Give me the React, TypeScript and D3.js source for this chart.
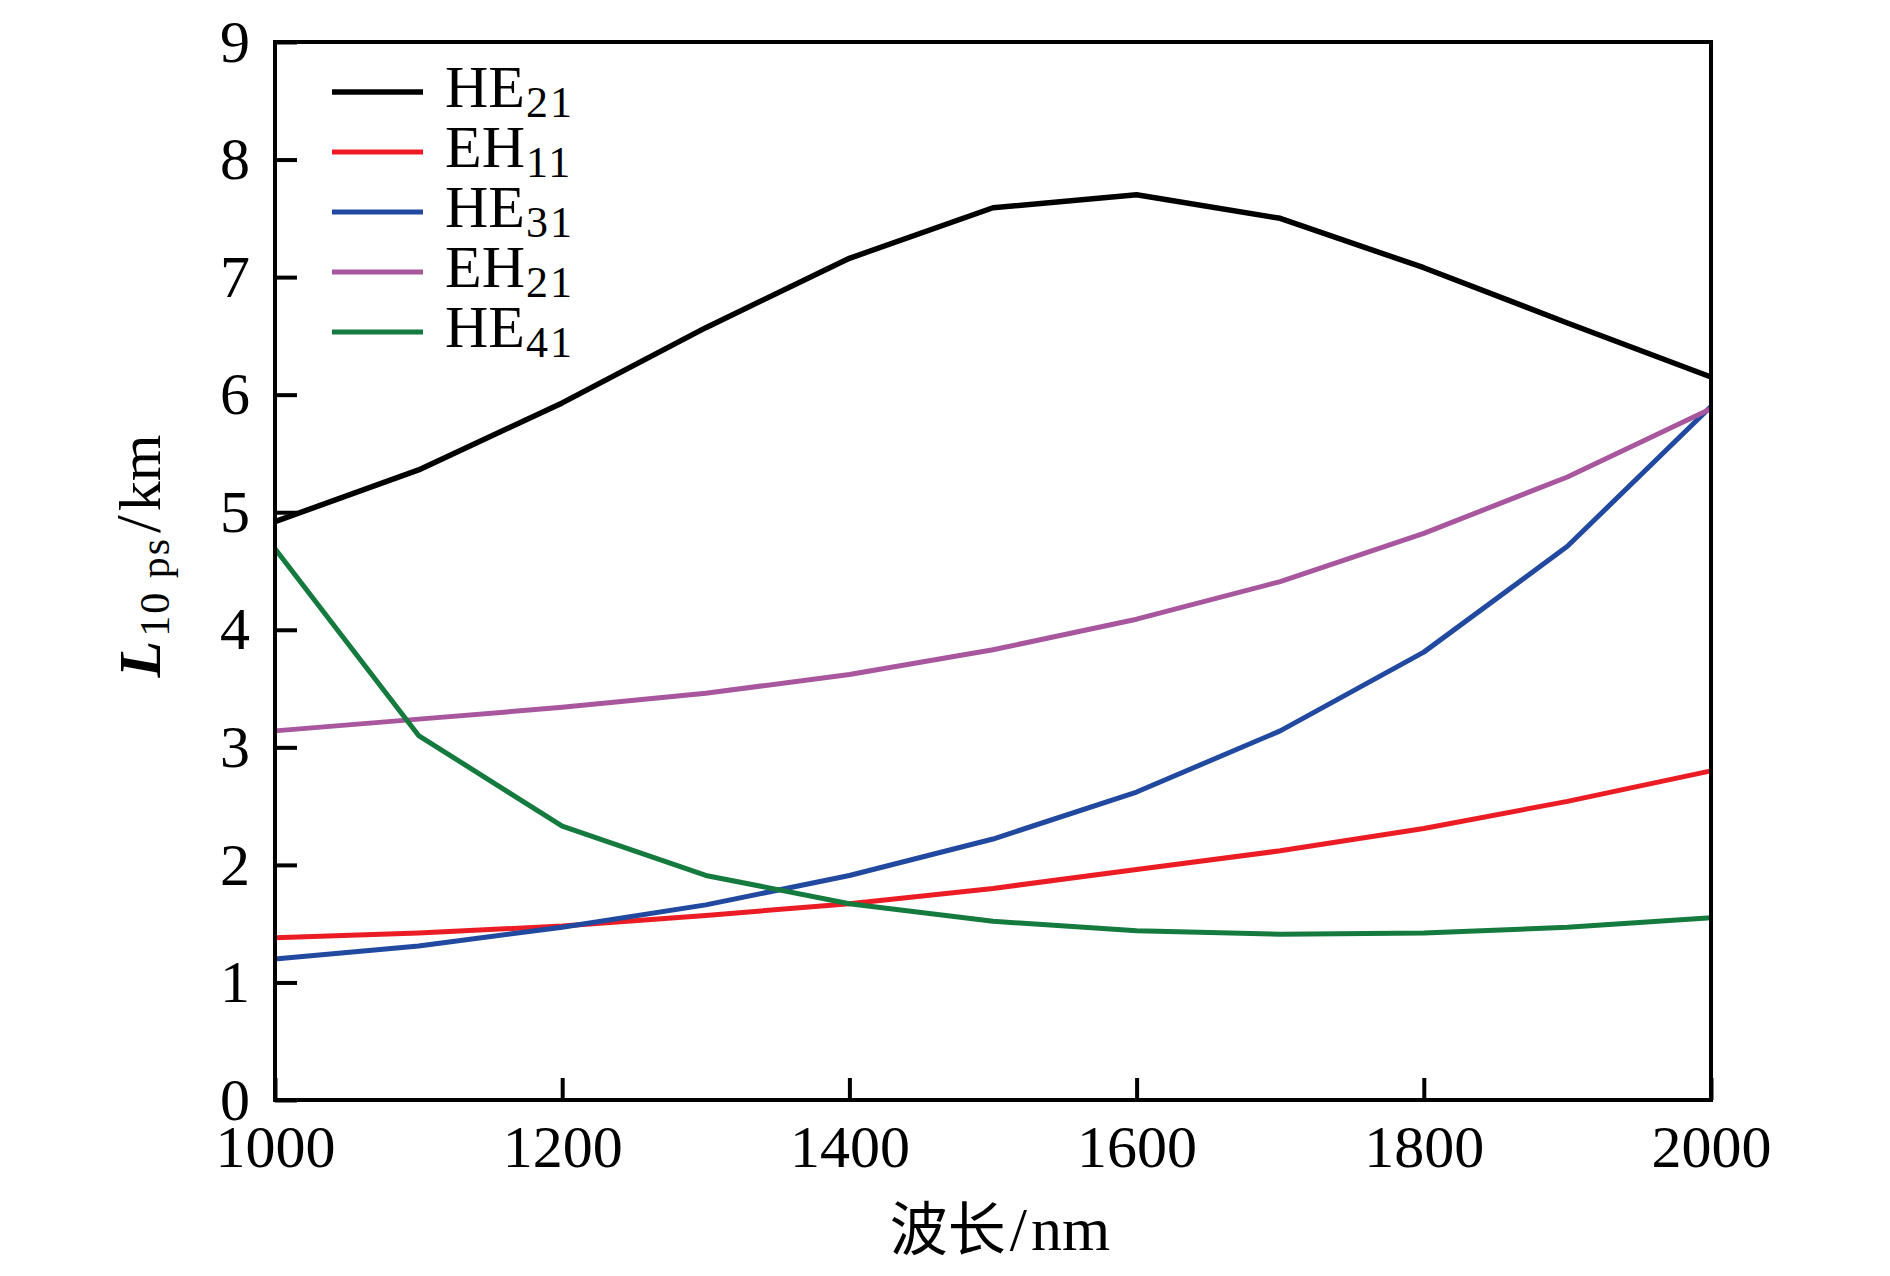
import { useEffect, useRef } from "react";
import * as d3 from "d3";

// wavelength (nm)
const wavelengths = [1000, 1100, 1200, 1300, 1400, 1500, 1600, 1700, 1800, 1900, 2000];

// L_10ps (km) for each mode
const he21 = [4.92, 5.36, 5.93, 6.57, 7.16, 7.59, 7.70, 7.50, 7.08, 6.61, 6.15];
const eh11 = [1.38, 1.42, 1.48, 1.57, 1.67, 1.80, 1.96, 2.12, 2.31, 2.54, 2.80];
const he31 = [1.20, 1.31, 1.47, 1.66, 1.91, 2.22, 2.62, 3.14, 3.81, 4.71, 5.90];
const eh21 = [3.14, 3.24, 3.34, 3.46, 3.62, 3.83, 4.09, 4.41, 4.82, 5.30, 5.88];
const he41 = [4.69, 3.10, 2.33, 1.91, 1.67, 1.52, 1.44, 1.41, 1.42, 1.47, 1.55];

const modes = ["HE", "EH", "HE", "EH", "HE"];
const modeSubs = ["21", "11", "31", "21", "41"];
const colors = ["#000000", "#ec1c24", "#2149a0", "#a8579f", "#157a3e"];
const seriesValues = [he21, eh11, he31, eh21, he41];

const xTicks = [1000, 1200, 1400, 1600, 1800, 2000];
const yTicks = [0, 1, 2, 3, 4, 5, 6, 7, 8, 9];

const W = 1890;
const H = 1276;
const margin = { left: 275, right: 179, top: 42, bottom: 176 };
const serif = "'Liberation Serif', 'Times New Roman', serif";

export default function App() {
  const ref = useRef<SVGSVGElement | null>(null);

  useEffect(() => {
    if (!ref.current) return;
    const svg = d3.select(ref.current);
    svg.selectAll("*").remove();

    const x = d3.scaleLinear().domain([1000, 2000]).range([margin.left, W - margin.right]);
    const y = d3.scaleLinear().domain([0, 9]).range([H - margin.bottom, margin.top]);

    // lines
    const line = d3.line<number>()
      .x((_, i) => x(wavelengths[i]))
      .y(d => y(d));
    seriesValues.forEach((vals, i) => {
      svg.append("path")
        .datum(vals)
        .attr("fill", "none")
        .attr("stroke", colors[i])
        .attr("stroke-width", i === 0 ? 5.5 : 5)
        .attr("stroke-linejoin", "round")
        .attr("d", line);
    });

    // axes (ticks inward)
    const gx = svg.append("g")
      .attr("transform", `translate(0,${y(0)})`)
      .call(d3.axisBottom(x).tickValues(xTicks).tickFormat(d3.format("d")).tickSizeInner(-22).tickSizeOuter(0).tickPadding(24));
    const gy = svg.append("g")
      .attr("transform", `translate(${x(1000)},0)`)
      .call(d3.axisLeft(y).tickValues(yTicks).tickFormat(d3.format("d")).tickSizeInner(-22).tickSizeOuter(0).tickPadding(25));
    [gx, gy].forEach(g => {
      g.select(".domain").remove();
      g.selectAll(".tick line").attr("stroke", "#000").attr("stroke-width", 4);
      g.selectAll(".tick text")
        .attr("fill", "#000")
        .style("font-family", serif)
        .style("font-size", "60px");
    });

    // frame
    svg.append("rect")
      .attr("x", x(1000))
      .attr("y", y(9))
      .attr("width", x(2000) - x(1000))
      .attr("height", y(0) - y(9))
      .attr("fill", "none")
      .attr("stroke", "#000")
      .attr("stroke-width", 4);

    // legend
    const lg = svg.append("g");
    modes.forEach((m, i) => {
      const ly = 92 + i * 60;
      lg.append("line")
        .attr("x1", 332).attr("x2", 423)
        .attr("y1", ly).attr("y2", ly)
        .attr("stroke", colors[i])
        .attr("stroke-width", i === 0 ? 5.5 : 5);
      const t = lg.append("text")
        .attr("x", 445)
        .attr("y", ly + 15)
        .style("font-family", serif)
        .style("font-size", "60px");
      t.append("tspan").text(m);
      t.append("tspan").attr("dy", 10).attr("dx", 1).style("font-size", "44px").style("letter-spacing", "2px").text(modeSubs[i]);
    });

    // x label
    const xl = svg.append("text")
      .attr("x", 1000)
      .attr("y", 1250)
      .attr("text-anchor", "middle")
      .style("font-size", "62px");
    xl.append("tspan").style("font-family", "'Noto Sans CJK SC', sans-serif").style("font-size", "58px").text("波长");
    xl.append("tspan").style("font-family", serif).attr("dx", 4).text("/");
    xl.append("tspan").style("font-family", serif).attr("dx", 4).text("nm");

    // y label
    const yl = svg.append("text")
      .attr("transform", `translate(160,556) rotate(-90)`)
      .attr("text-anchor", "middle")
      .style("font-family", serif)
      .style("font-size", "60px");
    yl.append("tspan").style("font-style", "italic").style("font-weight", "bold").text("L");
    yl.append("tspan").attr("dy", 9).attr("dx", 4).style("font-size", "42px").style("letter-spacing", "2px").text("10 ps");
    yl.append("tspan").attr("dy", -9).attr("dx", 4).style("font-size", "64px").text("/");
    yl.append("tspan").attr("dx", 4).text("km");
  }, []);

  return (
    <div style={{ position: "absolute", left: 0, top: 0 }}>
      <svg ref={ref} width={W} height={H} style={{ display: "block", background: "#fff" }} />
    </div>
  );
}
